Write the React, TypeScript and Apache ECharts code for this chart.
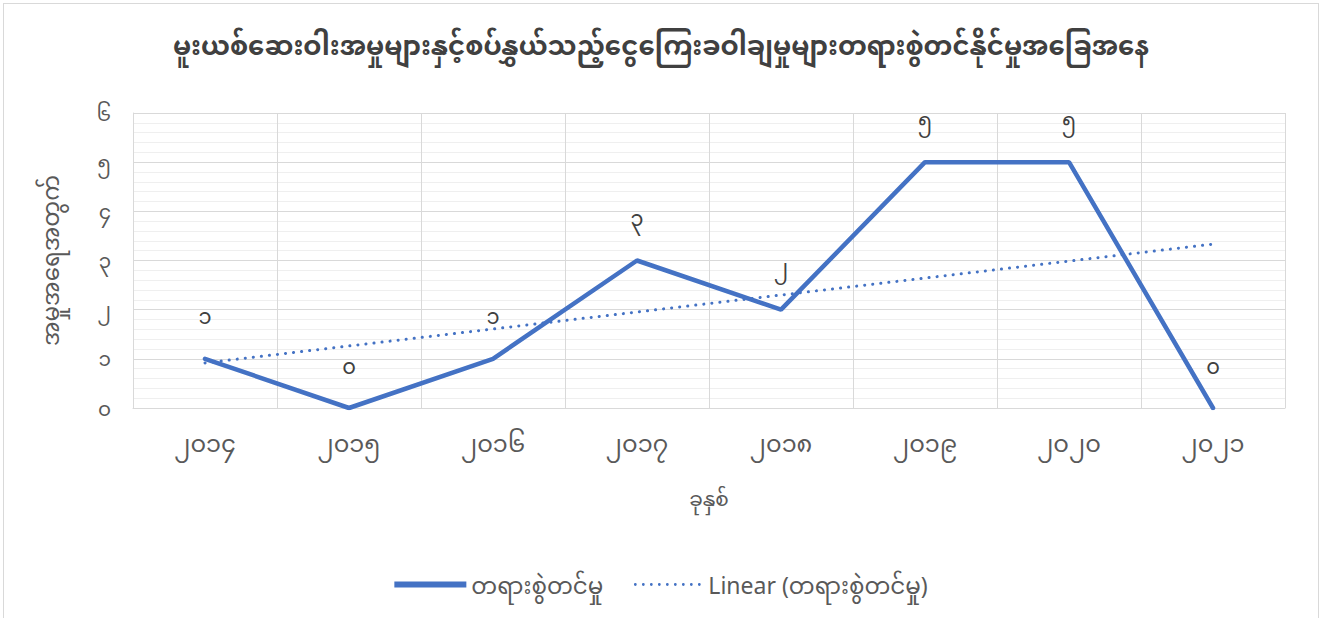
import React, { useEffect, useRef } from "react";
import * as echarts from "echarts";

const title = "မူးယစ်ဆေးဝါးအမှုများနှင့်စပ်နွှယ်သည့်ငွေကြေးခဝါချမှုများတရားစွဲတင်နိုင်မှုအခြေအနေ";
const yAxisName = "အမှုအရေအတွက်";
const xAxisName = "ခုနှစ်";
const seriesName = "တရားစွဲတင်မှု";
const trendName = "Linear (တရားစွဲတင်မှု)";
const categories = ["၂၀၁၄", "၂၀၁၅", "၂၀၁၆", "၂၀၁၇", "၂၀၁၈", "၂၀၁၉", "၂၀၂၀", "၂၀၂၁"];
const values = [1, 0, 1, 3, 2, 5, 5, 0];
const myDigits = ["၀", "၁", "၂", "၃", "၄", "၅", "၆", "၇", "၈", "၉"];

const toMy = (n: number) =>
  String(n)
    .split("")
    .map((c) => (c >= "0" && c <= "9" ? myDigits[+c] : c))
    .join("");

// least-squares linear trend (as Excel's Linear trendline)
function linearTrend(ys: number[]): number[] {
  const n = ys.length;
  const xs = ys.map((_, i) => i + 1);
  const mx = xs.reduce((a, b) => a + b, 0) / n;
  const my = ys.reduce((a, b) => a + b, 0) / n;
  let sxy = 0;
  let sxx = 0;
  for (let i = 0; i < n; i++) {
    sxy += (xs[i] - mx) * (ys[i] - my);
    sxx += (xs[i] - mx) * (xs[i] - mx);
  }
  const slope = sxy / sxx;
  return xs.map((x) => my + slope * (x - mx));
}

const FONT = "'Noto Sans', 'Noto Sans Myanmar', Padauk, sans-serif";
const BLUE = "#4472C4";

// dotted legend icon: dots across 72 x 6 box
const dotIcon =
  "path://M0,0 L0.01,0 Z " +
  Array.from({ length: 9 })
    .map((_, i) => {
      const cx = 4 + i * 8;
      return `M${cx - 1.4},3 a1.4,1.4 0 1,0 2.8,0 a1.4,1.4 0 1,0 -2.8,0 Z`;
    })
    .join(" ") +
  " M72,6 L71.99,6 Z";

export default function App() {
  const ref = useRef<HTMLDivElement>(null);
  useEffect(() => {
    if (!ref.current) return;
    const chart = echarts.init(ref.current, undefined, { renderer: "svg" });
    chart.setOption({
      animation: false,
      backgroundColor: "transparent",
      textStyle: { fontFamily: FONT },
      title: {
        text: title,
        left: "center",
        top: 27,
        textStyle: { fontFamily: FONT, fontSize: 26, fontWeight: "bold", color: "#404040" },
      },
      legend: {
        bottom: 17,
        left: "center",
        itemGap: 28,
        itemWidth: 72,
        itemHeight: 6,
        textStyle: { fontFamily: FONT, fontSize: 23, color: "#595959" },
        data: [
          {
            name: seriesName,
            icon: "path://M0,0 L72,0 L72,6 L0,6 Z",
            itemStyle: { color: BLUE, borderWidth: 0 },
          },
          { name: trendName, icon: dotIcon, itemStyle: { color: BLUE, borderWidth: 0 } },
        ],
      },
      grid: { left: 133, right: 37, top: 113, bottom: 210, containLabel: false },
      xAxis: {
        type: "category",
        data: categories,
        boundaryGap: true,
        name: xAxisName,
        nameLocation: "middle",
        nameGap: 80,
        nameTextStyle: { fontFamily: FONT, fontSize: 20, color: "#595959" },
        axisLine: { show: true, lineStyle: { color: "#d9d9d9", width: 1 } },
        axisTick: { show: false },
        axisLabel: { fontFamily: FONT, fontSize: 24, color: "#595959", margin: 22 },
        splitLine: { show: true, lineStyle: { color: "#d9d9d9", width: 1 } },
      },
      yAxis: {
        type: "value",
        min: 0,
        max: 6,
        interval: 1,
        name: yAxisName,
        nameLocation: "middle",
        nameGap: 72,
        nameRotate: 90,
        nameTextStyle: { fontFamily: FONT, fontSize: 23, color: "#595959" },
        axisLine: { show: true, lineStyle: { color: "#d9d9d9" } },
        axisTick: { show: false },
        axisLabel: {
          fontFamily: FONT,
          fontSize: 20,
          color: "#595959",
          margin: 22,
          formatter: (v: number) => toMy(v),
        },
        splitLine: { show: true, lineStyle: { color: "#d9d9d9", width: 1 } },
        minorTick: { show: false, splitNumber: 5 },
        minorSplitLine: { show: true, lineStyle: { color: "#efefef", width: 1 } },
      },
      series: [
        {
          name: seriesName,
          type: "line",
          data: values,
          symbol: "circle",
          symbolSize: 0,
          showSymbol: true,
          lineStyle: { color: BLUE, width: 4.5, cap: "round" },
          itemStyle: { color: BLUE },
          label: {
            show: true,
            position: "top",
            distance: 32,
            fontFamily: FONT,
            fontSize: 21,
            color: "#404040",
            formatter: (p: any) => toMy(p.value),
          },
          z: 3,
        },
        {
          name: trendName,
          type: "line",
          data: linearTrend(values),
          symbol: "none",
          lineStyle: { color: BLUE, width: 3, type: [0.1, 8], cap: "round" },
          itemStyle: { color: BLUE },
          z: 2,
        },
      ],
    });
    return () => chart.dispose();
  }, []);
  return (
    <div
      style={{
        position: "fixed",
        left: 0,
        top: 0,
        width: 1322,
        height: 618,
        background: "#fff",
      }}
    >
      <div
        style={{
          position: "absolute",
          left: 3,
          top: 3,
          width: 1316,
          height: 640,
          border: "1px solid #d9d9d9",
          boxSizing: "border-box",
        }}
      />
      <div ref={ref} style={{ position: "absolute", left: 0, top: 0, width: 1322, height: 618 }} />
    </div>
  );
}
